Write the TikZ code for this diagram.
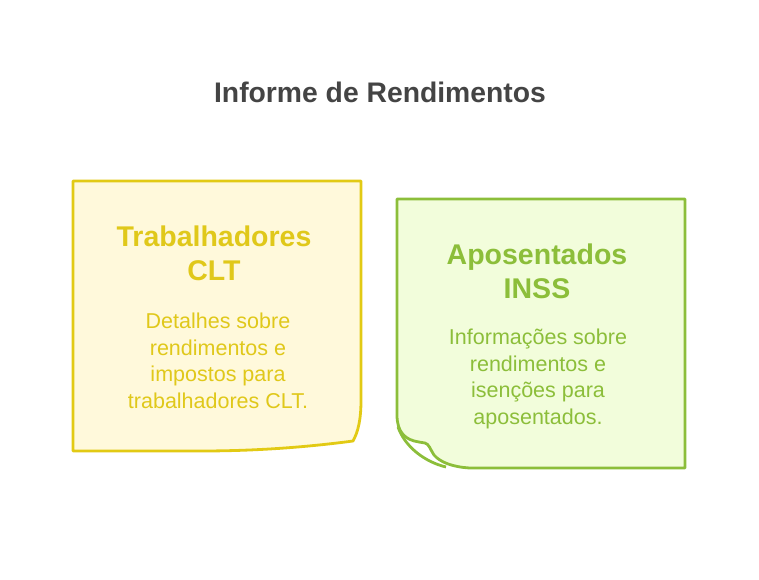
\documentclass[tikz,border=0pt]{standalone}
\usepackage{fontspec}
\setmainfont{Liberation Sans}
\definecolor{ylstroke}{HTML}{E2CA14}
\definecolor{ylfill}{HTML}{FFF9DB}
\definecolor{ylText}{HTML}{E0C81A}
\definecolor{grstroke}{HTML}{8CBE3A}
\definecolor{grfill}{HTML}{F2FDDB}
\definecolor{grText}{HTML}{8CBE3A}
\definecolor{titlecol}{HTML}{444444}
\tikzset{
  card/.style={line width=2.8pt, line join=round},
  head/.style={font=\fontsize{28.5}{33}\selectfont\bfseries, align=center, inner sep=0pt},
  body/.style={font=\fontsize{21.5}{26.5}\selectfont, align=center, inner sep=0pt},
}
\begin{document}
\begin{tikzpicture}[x=1pt,y=-1pt]
\useasboundingbox (0,0) rectangle (759,579);
\node[font=\fontsize{28.3}{32}\selectfont\bfseries, text=titlecol, inner sep=0pt] (title) at (380,92) {Informe de Rendimentos};
% yellow card
\draw[card, draw=ylstroke, fill=ylfill] (73,181) -- (361,181) -- (361,400) .. controls (361,420) and (358,432) .. (353,441) .. controls (300,448) and (250,451) .. (200,451) -- (73,451) -- cycle;
\node[head, text=ylText] (h1) at (214,253) {Trabalhadores\\[1pt]CLT};
\node[body, text=ylText] (b1) at (218,361) {Detalhes sobre\\rendimentos e\\impostos para\\trabalhadores CLT.};
% green card
\draw[card, draw=grstroke, fill=grfill] (397,199) -- (685,199) -- (685,468) -- (470,468) .. controls (452,467) and (440,462) .. (434,455) .. controls (430,449) and (429,444) .. (425,443) -- (419,442) .. controls (405,440) and (397,432) .. (397,415) -- cycle;
\draw[card, draw=grstroke] (398,427) .. controls (405,447) and (425,462) .. (446,467);
\node[head, text=grText] (h2) at (537,271) {Aposentados\\[1pt]INSS};
\node[body, text=grText] (b2) at (538,379) {Informações sobre\\rendimentos e\\isenções para\\aposentados.};
\end{tikzpicture}
\end{document}
